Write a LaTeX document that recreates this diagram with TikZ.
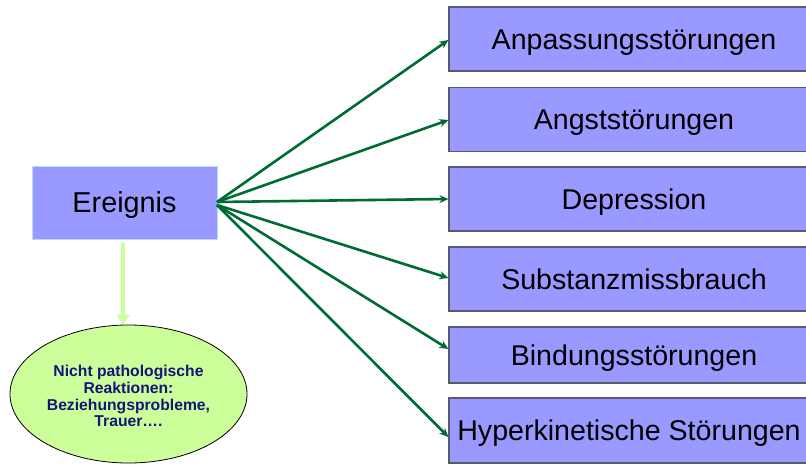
\documentclass[tikz,border=0pt]{standalone}
\usepackage{fontspec}
\setmainfont{Liberation Sans}
\usetikzlibrary{arrows.meta,shapes.geometric}
\definecolor{boxfill}{HTML}{9999FF}
\definecolor{boxline}{HTML}{5A5A6E}
\definecolor{srcline}{HTML}{B8DCFF}
\definecolor{arrgreen}{HTML}{006B33}
\definecolor{lightgreen}{HTML}{CCFF99}
\definecolor{navytext}{HTML}{14147A}
\tikzset{
  rbox/.style={draw=boxline, line width=1.2pt, fill=boxfill, inner sep=0pt,
    minimum width=370pt, text height=20.6pt, text depth=0pt,
    font=\fontsize{28.6}{30}\selectfont, text=black},
  srcbox/.style={draw=srcline, line width=0.8pt, fill=boxfill, inner sep=0pt,
    text height=20.6pt, text depth=0pt,
    minimum width=185pt, minimum height=73pt, font=\fontsize{28.8}{30}\selectfont, text=black},
  fan/.style={draw=arrgreen, line width=2.6pt, -{Stealth[length=9pt,width=8pt]}},
  down/.style={draw=lightgreen, line width=4.5pt, -{Triangle[length=10pt,width=13pt]}},
  ell/.style={ellipse, draw=black, line width=0.8pt, fill=lightgreen, inner sep=0pt,
    minimum width=237pt, minimum height=138pt},
  elltext/.style={text=navytext, align=center, inner sep=0pt,
    font=\fontsize{15.7}{16.8}\selectfont\bfseries}
}
\begin{document}
\begin{tikzpicture}[x=1pt,y=-1pt]
\useasboundingbox (0,0) rectangle (806,464);
\clip (0,0) rectangle (806,464);
\node[srcbox] (src) at (124.5,202.5) {Ereignis};
\node[rbox, minimum height=64pt] (b1) at (634,39) {Anpassungsstörungen};
\node[rbox, minimum height=64pt] (b2) at (634,119.5) {Angststörungen};
\node[rbox, minimum height=64pt] (b3) at (634,199) {Depression};
\node[rbox, minimum height=64pt] (b4) at (634,279) {Substanzmissbrauch};
\node[rbox, minimum height=56pt] (b5) at (634,355) {Bindungsstörungen};
\node[rbox, minimum height=65pt, minimum width=360pt] (b6) at (629,430.5) {Hyperkinetische Störungen};
\node[ell] (e) at (128.5,394) {};
\node[elltext] (et) at (128.5,396) {Nicht pathologische\\Reaktionen:\\Beziehungsprobleme,\\Trauer….};
\coordinate (s1) at (217,202);
\coordinate (s2) at (217,205);
\draw[fan] (s1) -- (b1.west |- 0,40);
\draw[fan] (s1) -- (b2.west |- 0,120);
\draw[fan] (s1) -- (b3.west |- 0,199);
\draw[fan] (s2) -- (b4.west |- 0,278);
\draw[fan] (s2) -- (b5.west |- 0,349);
\draw[fan] (s2) -- (b6.west |- 0,437);
\draw[down] (src.south -| 123,0) ++(0,4) -- (e.north -| 123,0);
\end{tikzpicture}
\end{document}
